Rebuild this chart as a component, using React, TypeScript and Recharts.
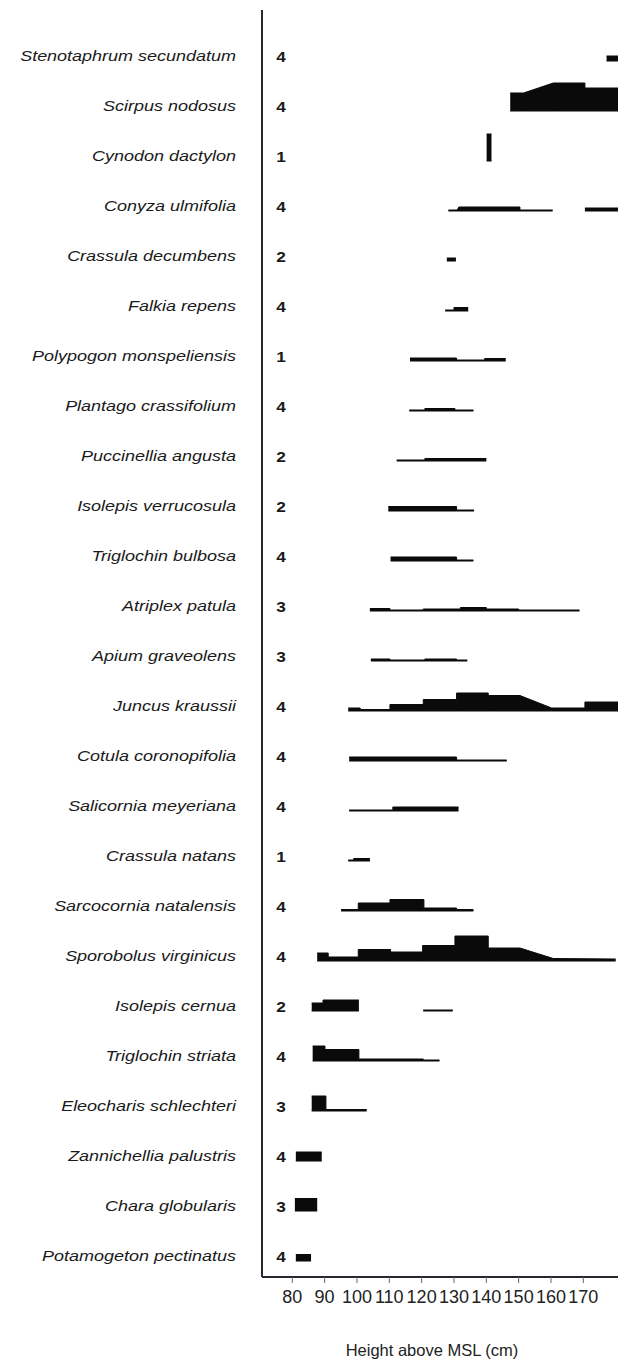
import { ComposedChart, Area, XAxis, YAxis } from "recharts";

// Species, top to bottom, as they appear on the figure
const SPECIES = [
  "Stenotaphrum secundatum",
  "Scirpus nodosus",
  "Cynodon dactylon",
  "Conyza ulmifolia",
  "Crassula decumbens",
  "Falkia repens",
  "Polypogon monspeliensis",
  "Plantago crassifolium",
  "Puccinellia angusta",
  "Isolepis verrucosula",
  "Triglochin bulbosa",
  "Atriplex patula",
  "Apium graveolens",
  "Juncus kraussii",
  "Cotula coronopifolia",
  "Salicornia meyeriana",
  "Crassula natans",
  "Sarcocornia natalensis",
  "Sporobolus virginicus",
  "Isolepis cernua",
  "Triglochin striata",
  "Eleocharis schlechteri",
  "Zannichellia palustris",
  "Chara globularis",
  "Potamogeton pectinatus",
];

// number column next to the axis
const TRANSECTS = [4, 4, 1, 4, 2, 4, 1, 4, 2, 2, 4, 3, 3, 4, 4, 4, 1, 4, 4, 2, 4, 3, 4, 3, 4];

const HEIGHT_TICKS = [80, 90, 100, 110, 120, 130, 140, 150, 160, 170];

// profile outline per species: [height above MSL (cm), cover]; null = gap
const PROFILES: [number, number | null][][] = [
  [[177.2, 5], [181, 5]],
  [[147.4, 18], [151.5, 18], [160.7, 28], [170.5, 28], [170.5, 23], [181, 23]],
  [[140.1, 27], [141.6, 27]],
  [[128.3, 1], [131, 1], [131.5, 4], [150.4, 4], [150.4, 1], [160.5, 1], [165, null], [170.5, 3], [181, 3]],
  [[127.8, 3], [130.6, 3]],
  [[127.3, 1], [130, 1], [130, 3.5], [134.4, 3.5]],
  [[116.4, 3], [130.8, 3], [130.8, 1], [139.5, 1], [139.5, 2.5], [146, 2.5]],
  [[116.2, 1], [121, 1], [121, 2.5], [130.3, 2.5], [130.3, 1], [136, 1]],
  [[112.3, 1], [121, 1], [121, 2.5], [140, 2.5]],
  [[109.7, 4.5], [130.8, 4.5], [130.8, 1], [136.2, 1]],
  [[110.4, 4], [130.8, 4], [130.8, 1], [136, 1]],
  [[104, 2.5], [110.2, 2.5], [110.2, 1], [120.5, 1], [120.5, 2], [132, 2], [132, 3.5], [140, 3.5], [140, 2], [150, 2], [150, 1], [168.8, 1]],
  [[104.3, 2], [110.2, 2], [110.2, 1], [121, 1], [121, 2], [130.8, 2], [130.8, 1], [134.1, 1]],
  [[97.3, 3], [101, 3], [101, 1.5], [110.2, 1.5], [110.2, 6.5], [120.5, 6.5], [120.5, 11.5], [130.8, 11.5], [130.8, 18], [140.6, 18], [140.6, 15.5], [150.4, 15.5], [160.2, 3], [170.5, 3], [170.5, 9], [181, 9]],
  [[97.6, 4], [130.8, 4], [130.8, 1], [146.3, 1]],
  [[97.6, 1], [111.1, 1], [111.1, 4], [131.4, 4]],
  [[97.3, 1], [99, 1], [99, 2.5], [104, 2.5]],
  [[95.1, 1.5], [100.4, 1.5], [100.4, 8], [110.2, 8], [110.2, 11.5], [120.7, 11.5], [120.7, 3], [130.8, 3], [130.8, 1.5], [136, 1.5]],
  [[87.7, 8], [91.1, 8], [91.1, 4], [100.4, 4], [100.4, 11.5], [110.4, 11.5], [110.4, 9], [120.3, 9], [120.3, 15.5], [130.3, 15.5], [130.3, 25], [140.6, 25], [140.6, 13], [150.4, 13], [160.7, 2.5], [180, 2]],
  [[86, 8], [89.5, 8], [89.5, 11], [100.6, 11], [110, null], [120.5, 1], [129.6, 1]],
  [[86.3, 15], [90.1, 15], [90.1, 11.5], [100.6, 11.5], [100.6, 2], [120.5, 2], [120.5, 1], [125.5, 1]],
  [[86, 15], [90.4, 15], [90.4, 1.5], [103, 1.5]],
  [[81.1, 9], [89.1, 9]],
  [[80.8, 12.5], [87.7, 12.5]],
  [[81.1, 6.5], [85.8, 6.5]],
];

const ROW_STEP = 50;
const N = SPECIES.length;
const INK = "#0a0a0a";
const FONT = "'Liberation Sans', Arial, Helvetica, sans-serif";

const rowBase = (i: number) => (N - 1 - i) * ROW_STEP;

const SpeciesTick = (props: any) => {
  const { y, payload } = props;
  const i = N - 1 - Math.round(payload.value / ROW_STEP);
  const cy = y - 5;
  return (
    <g>
      <text
        transform={`translate(236, ${cy}) scale(1.2, 1)`}
        textAnchor="end"
        dominantBaseline="central"
        fontStyle="italic"
        fontSize={15}
        fontFamily={FONT}
        fill="#1a1a1a"
      >
        {SPECIES[i]}
      </text>
      <text
        transform={`translate(281, ${cy}) scale(1.15, 1)`}
        textAnchor="middle"
        dominantBaseline="central"
        fontWeight="bold"
        fontSize={15}
        fontFamily={FONT}
        fill="#1a1a1a"
      >
        {TRANSECTS[i]}
      </text>
    </g>
  );
};

export default function App() {
  const rowTicks = SPECIES.map((_, i) => rowBase(i));

  return (
    <div style={{ position: "absolute", left: 0, top: 0, background: "#fff" }}>
      <ComposedChart
        width={619}
        height={1359}
        margin={{ top: 10, right: 1, left: 12, bottom: 0 }}
      >
        <XAxis
          dataKey="h"
          type="number"
          domain={[70.63, 180.73]}
          allowDataOverflow
          ticks={HEIGHT_TICKS}
          interval={0}
          tickSize={6}
          tickMargin={7}
          height={82}
          tick={{ fontSize: 18, fill: "#222", fontFamily: FONT }}
          tickLine={{ stroke: "#666" }}
          axisLine={{ stroke: "#2b2630", strokeWidth: 2 }}
          label={{
            value: "Height above MSL (cm)",
            position: "insideBottom",
            offset: 3,
            dx: -8,
            fontSize: 16.5,
            fill: "#222",
            fontFamily: FONT,
          }}
        />
        <YAxis
          type="number"
          domain={[-16, 1251]}
          allowDataOverflow
          ticks={rowTicks}
          interval={0}
          width={250}
          tickLine={false}
          tick={<SpeciesTick />}
          axisLine={{ stroke: "#2b2630", strokeWidth: 2 }}
        />
        {PROFILES.map((profile, i) => {
          const base = rowBase(i);
          const data = profile.map(([h, c]) => ({
            h,
            band: c == null ? null : [base, base + c],
          }));
          return (
            <Area
              key={SPECIES[i]}
              data={data}
              dataKey="band"
              type="linear"
              fill={INK}
              fillOpacity={1}
              stroke={INK}
              strokeWidth={1}
              dot={false}
              activeDot={false}
              connectNulls={false}
              isAnimationActive={false}
            />
          );
        })}
      </ComposedChart>
    </div>
  );
}
